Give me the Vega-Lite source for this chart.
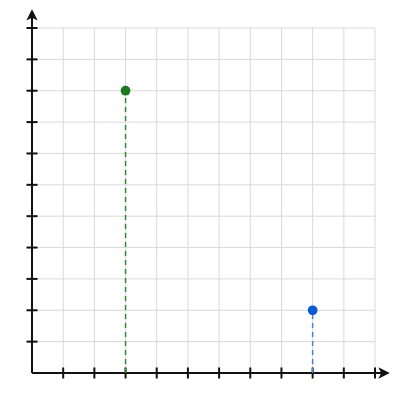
{
  "$schema": "https://vega.github.io/schema/vega-lite/v6.json",
  "width": 343,
  "height": 345,
  "autosize": {"type": "none"},
  "padding": {"left": 32, "top": 28, "right": 25, "bottom": 27},
  "background": "white",
  "config": {"view": {"stroke": null}},
  "datasets": {
    "grid": [
      {"x": 1, "y": 0, "x2": 1, "y2": 11}, {"x": 2, "y": 0, "x2": 2, "y2": 11},
      {"x": 3, "y": 0, "x2": 3, "y2": 11}, {"x": 4, "y": 0, "x2": 4, "y2": 11},
      {"x": 5, "y": 0, "x2": 5, "y2": 11}, {"x": 6, "y": 0, "x2": 6, "y2": 11},
      {"x": 7, "y": 0, "x2": 7, "y2": 11}, {"x": 8, "y": 0, "x2": 8, "y2": 11},
      {"x": 9, "y": 0, "x2": 9, "y2": 11}, {"x": 10, "y": 0, "x2": 10, "y2": 11},
      {"x": 11, "y": 0, "x2": 11, "y2": 11},
      {"x": 0, "y": 1, "x2": 11, "y2": 1}, {"x": 0, "y": 2, "x2": 11, "y2": 2},
      {"x": 0, "y": 3, "x2": 11, "y2": 3}, {"x": 0, "y": 4, "x2": 11, "y2": 4},
      {"x": 0, "y": 5, "x2": 11, "y2": 5}, {"x": 0, "y": 6, "x2": 11, "y2": 6},
      {"x": 0, "y": 7, "x2": 11, "y2": 7}, {"x": 0, "y": 8, "x2": 11, "y2": 8},
      {"x": 0, "y": 9, "x2": 11, "y2": 9}, {"x": 0, "y": 10, "x2": 11, "y2": 10},
      {"x": 0, "y": 11, "x2": 11, "y2": 11}
    ],
    "axes": [
      {"x": 0, "y": 0, "x2": 11.2, "y2": 0},
      {"x": 0, "y": 0, "x2": 0, "y2": 11.35}
    ],
    "ticks": [
      {"axis": "x", "x": 1, "y": 0}, {"axis": "x", "x": 2, "y": 0}, {"axis": "x", "x": 3, "y": 0},
      {"axis": "x", "x": 4, "y": 0}, {"axis": "x", "x": 5, "y": 0}, {"axis": "x", "x": 6, "y": 0},
      {"axis": "x", "x": 7, "y": 0}, {"axis": "x", "x": 8, "y": 0}, {"axis": "x", "x": 9, "y": 0},
      {"axis": "x", "x": 10, "y": 0}, {"axis": "x", "x": 11, "y": 0},
      {"axis": "y", "x": 0, "y": 1}, {"axis": "y", "x": 0, "y": 2}, {"axis": "y", "x": 0, "y": 3},
      {"axis": "y", "x": 0, "y": 4}, {"axis": "y", "x": 0, "y": 5}, {"axis": "y", "x": 0, "y": 6},
      {"axis": "y", "x": 0, "y": 7}, {"axis": "y", "x": 0, "y": 8}, {"axis": "y", "x": 0, "y": 9},
      {"axis": "y", "x": 0, "y": 10}, {"axis": "y", "x": 0, "y": 11}
    ],
    "points": [
      {"series": "green", "x": 3, "y": 9, "y0": 0},
      {"series": "blue", "x": 9, "y": 2, "y0": 0}
    ],
    "arrows": [
      {"dir": "up", "x": 0, "y": 11.42},
      {"dir": "right", "x": 11.29, "y": 0}
    ]
  },
  "layer": [
    {
      "data": {"name": "grid"},
      "mark": {"type": "rule", "color": "#d9d9d9", "strokeWidth": 1},
      "encoding": {
        "x": {"field": "x", "type": "quantitative", "scale": {"domain": [0, 11], "nice": false}, "axis": null},
        "y": {"field": "y", "type": "quantitative", "scale": {"domain": [0, 11], "nice": false}, "axis": null},
        "x2": {"field": "x2"},
        "y2": {"field": "y2"}
      }
    },
    {
      "data": {"name": "axes"},
      "mark": {"type": "rule", "color": "#111111", "strokeWidth": 2},
      "encoding": {
        "x": {"field": "x", "type": "quantitative"},
        "y": {"field": "y", "type": "quantitative"},
        "x2": {"field": "x2"},
        "y2": {"field": "y2"}
      }
    },
    {
      "data": {"name": "ticks"},
      "transform": [{"filter": "datum.axis == 'x'"}],
      "mark": {"type": "tick", "orient": "vertical", "color": "#111111", "size": 11, "thickness": 2, "opacity": 1},
      "encoding": {
        "x": {"field": "x", "type": "quantitative"},
        "y": {"field": "y", "type": "quantitative"}
      }
    },
    {
      "data": {"name": "ticks"},
      "transform": [{"filter": "datum.axis == 'y'"}],
      "mark": {"type": "tick", "orient": "horizontal", "color": "#111111", "size": 11, "thickness": 2, "opacity": 1},
      "encoding": {
        "x": {"field": "x", "type": "quantitative"},
        "y": {"field": "y", "type": "quantitative"}
      }
    },
    {
      "data": {"name": "points"},
      "mark": {"type": "rule", "strokeWidth": 1.5, "strokeDash": [5, 4]},
      "encoding": {
        "x": {"field": "x", "type": "quantitative"},
        "y": {"field": "y0", "type": "quantitative"},
        "y2": {"field": "y"},
        "stroke": {
          "field": "series",
          "type": "nominal",
          "scale": {"domain": ["green", "blue"], "range": ["#2e8a2e", "#4384e0"]},
          "legend": null
        }
      }
    },
    {
      "data": {"name": "points"},
      "mark": {"type": "point", "shape": "circle", "filled": true, "size": 95, "opacity": 1},
      "encoding": {
        "x": {"field": "x", "type": "quantitative"},
        "y": {"field": "y", "type": "quantitative"},
        "fill": {
          "field": "series",
          "type": "nominal",
          "scale": {"domain": ["green", "blue"], "range": ["#1c7a1c", "#0b5ad8"]},
          "legend": null
        }
      }
    },
    {
      "data": {"name": "arrows"},
      "mark": {"type": "point", "filled": true, "size": 130, "opacity": 1, "color": "#111111"},
      "encoding": {
        "x": {"field": "x", "type": "quantitative"},
        "y": {"field": "y", "type": "quantitative"},
        "shape": {
          "field": "dir",
          "type": "nominal",
          "scale": {
            "domain": ["up", "right"],
            "range": ["M0,-1L1,1L0,0.5L-1,1Z", "M1,0L-1,1L-0.5,0L-1,-1Z"]
          },
          "legend": null
        }
      }
    }
  ]
}
